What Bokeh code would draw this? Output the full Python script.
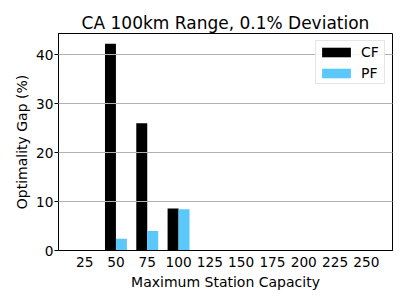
import numpy as np
from bokeh.plotting import figure
from bokeh.models import ColumnDataSource, Range1d, FixedTicker, Legend, LegendItem
from bokeh.embed import file_html
from bokeh.resources import INLINE

# ---- data ----
capacities = ["25", "50", "75", "100", "125", "150", "175", "200", "225", "250"]
cf_gap = [0.0, 42.2, 26.0, 8.6, 0.0, 0.0, 0.0, 0.0, 0.0, 0.0]
pf_gap = [0.0, 2.4, 4.0, 8.4, 0.0, 0.0, 0.0, 0.0, 0.0, 0.0]
title_text = "CA 100km Range, 0.1% Deviation"
x_label = "Maximum Station Capacity"
y_label = "Optimality Gap (%)"
y_ticks = [0, 10, 20, 30, 40]

FONT = "DejaVu Sans"
BAR_W = 0.35
idx = np.arange(len(capacities))

src = ColumnDataSource(dict(
    x_cf=idx - BAR_W / 2,
    x_pf=idx + BAR_W / 2,
    cf=cf_gap,
    pf=pf_gap,
))

p = figure(
    frame_width=334, frame_height=217,
    min_border_left=58, min_border_right=15, min_border_top=33, min_border_bottom=55,
    x_range=Range1d(-0.835, len(capacities) - 1 + 0.835),
    y_range=Range1d(0, max(cf_gap) * 1.05),
    output_backend="svg", toolbar_location=None,
    background_fill_color="white", border_fill_color="white",
)

r_cf = p.vbar(x="x_cf", top="cf", width=BAR_W, source=src, fill_color="black", line_color=None)
r_pf = p.vbar(x="x_pf", top="pf", width=BAR_W, source=src, fill_color="#5AC8FA", line_color=None)

# title
p.title.text = title_text
p.title.align = "center"
p.title.text_font = FONT
p.title.text_font_size = "17px"
p.title.text_font_style = "normal"
p.title.text_color = "black"
p.title.standoff = 2

# axes
p.xaxis.ticker = FixedTicker(ticks=list(idx))
p.xaxis.major_label_overrides = {int(i): c for i, c in zip(idx, capacities)}
p.yaxis.ticker = FixedTicker(ticks=y_ticks)
p.xaxis.axis_label = x_label
p.yaxis.axis_label = y_label
for ax in (p.xaxis[0], p.yaxis[0]):
    ax.axis_label_text_font = FONT
    ax.axis_label_text_font_size = "14px"
    ax.axis_label_text_font_style = "normal"
    ax.axis_label_text_color = "black"
    ax.major_label_text_font = FONT
    ax.major_label_text_font_size = "13.7px"
    ax.major_label_text_color = "black"
    ax.axis_line_color = "black"
    ax.major_tick_line_color = "black"
    ax.minor_tick_line_color = None
    ax.major_tick_in = 0
    ax.major_tick_out = 4
p.xaxis.major_tick_out = 0
p.xaxis.major_label_standoff = 6
p.xaxis.axis_label_standoff = 4
p.yaxis.major_label_standoff = 1
p.yaxis.axis_label_standoff = 3

p.outline_line_color = "black"
p.outline_line_width = 1

# grid
p.xgrid.grid_line_color = None
p.ygrid.grid_line_color = "#b0b0b0"
p.ygrid.grid_line_width = 1
p.ygrid.level = "guide"

legend = Legend(
    items=[LegendItem(label="CF", renderers=[r_cf]), LegendItem(label="PF", renderers=[r_pf])],
    location="top_right", margin=7, padding=2,
    glyph_width=36, glyph_height=12, label_height=17, label_width=21,
    label_standoff=7, spacing=4,
    label_text_font=FONT, label_text_font_size="14px", label_text_color="black",
    border_line_color="#cccccc", border_line_width=1,
    background_fill_color="white", background_fill_alpha=0.85,
)
p.add_layout(legend, "center")

open("out.html", "w").write(file_html(p, INLINE))
